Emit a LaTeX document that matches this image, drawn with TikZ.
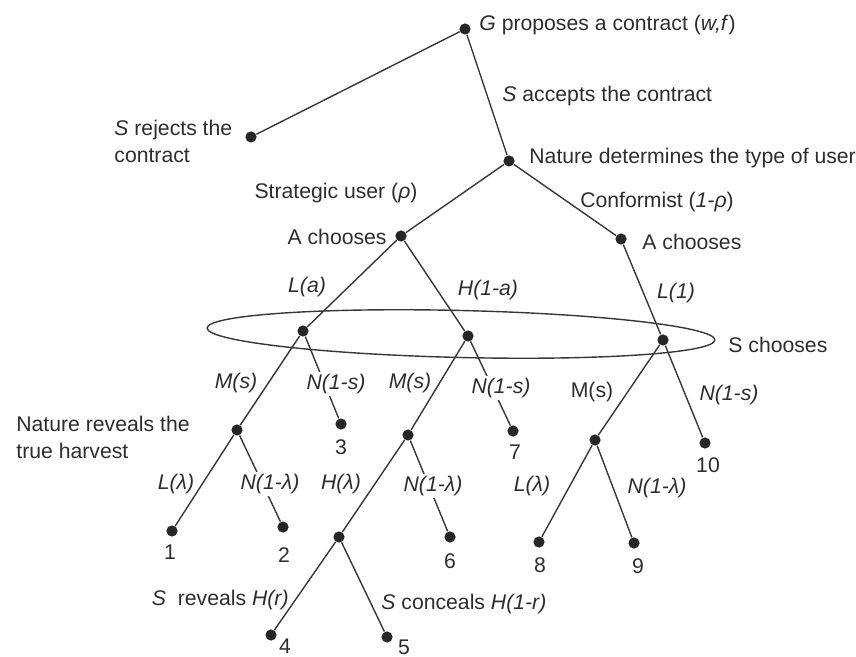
\documentclass[tikz,border=0pt]{standalone}
\usepackage{fontspec}
\setmainfont{Liberation Sans}
\usepackage{xcolor}
\usepackage{tikz}
\usetikzlibrary{shapes.geometric}
\definecolor{inkgray}{RGB}{55,55,55}
\definecolor{textgray}{RGB}{45,45,45}

\begin{document}
\begin{tikzpicture}[x=0.5pt, y=-0.5pt,
    every node/.style={font=\fontsize{10.6}{13.5}\selectfont, text=textgray},
    dot/.style={circle, fill=black!85, inner sep=0pt, minimum size=5.6pt},
    branch/.style={draw=inkgray, line width=0.7pt},
    lab/.style={inner sep=1pt},
    cut/.style={fill=white, inner sep=1pt}]
  \useasboundingbox (0,0) rectangle (856,657);
  % decision and chance nodes
  \node[dot] (g) at (465,29) {};
  \node[dot] (rej) at (251,137) {};
  \node[dot] (nat) at (509,161) {};
  \node[dot] (as) at (401,236) {};
  \node[dot] (ac) at (621,239) {};
  \node[dot] (sl) at (303,331) {};
  \node[dot] (sh) at (468,336) {};
  \node[dot] (sc) at (663,340) {};
  \node[dot] (nl) at (237,430) {};
  \node[dot] (nh) at (408,435) {};
  \node[dot] (nc) at (595,440) {};
  \node[dot] (sr) at (339,537) {};
  % end points
  \node[dot] (t1) at (172,531) {};
  \node[dot] (t2) at (283,527) {};
  \node[dot] (t3) at (341,424) {};
  \node[dot] (t4) at (271,635) {};
  \node[dot] (t5) at (387,637) {};
  \node[dot] (t6) at (450,537) {};
  \node[dot] (t7) at (513,431) {};
  \node[dot] (t8) at (539,542) {};
  \node[dot] (t9) at (634,543) {};
  \node[dot] (t10) at (705,443) {};
  \foreach \a/\b in {g/rej, g/nat, nat/as, nat/ac, as/sl, as/sh, ac/sc,
      sl/nl, sl/t3, sh/nh, sh/t7, sc/nc, sc/t10, nl/t1, nl/t2,
      nh/sr, nh/t6, nc/t8, nc/t9, sr/t4, sr/t5}
    \draw[branch] (\a) -- (\b);
  % information set of S
  \node[draw=inkgray, line width=0.7pt, ellipse, minimum width=254pt, minimum height=23.5pt,
    rotate=-1.35] (infoset) at (461,334) {};
  % player labels
  \node[lab, anchor=west] (gtxt) at (477,25) {\textit{G} proposes a contract (\textit{w,f})};
  \node[lab, anchor=west] (acctxt) at (500,96) {\textit{S} accepts the contract};
  \node[lab, anchor=west] (nattxt) at (527,158) {Nature determines the type of user};
  \node[lab, anchor=west, align=left] (rejtxt) at (112,141) {\textit{S} rejects the\\contract};
  \node[lab] (strat) at (336,193) {Strategic user (\textit{ρ})};
  \node[lab] (conf) at (657,202) {Conformist (\textit{1-ρ})};
  \node[lab, anchor=east] (astxt) at (389,237) {A chooses};
  \node[lab, anchor=west] (actxt) at (640,242) {A chooses};
  \node[lab, anchor=west] (sctxt) at (726,345) {S chooses};
  \node[lab, anchor=west, align=left] (nrtxt) at (14,437) {Nature reveals the\\true harvest};
  % move labels
  \node[lab] (la) at (307,287) {\textit{L(a)}};
  \node[lab] (ha) at (488,290) {\textit{H(1-a)}};
  \node[lab] (l1) at (676,293) {\textit{L(1)}};
  \node[lab] (ms1) at (236,383) {\textit{M(s)}};
  \node[cut] (ns1) at (336,384) {\textit{N(1-s)}};
  \node[lab] (ms2) at (410,383) {\textit{M(s)}};
  \node[cut] (ns2) at (501,388) {\textit{N(1-s)}};
  \node[lab] (ms3) at (592,392) {M(s)};
  \node[lab] (ns3) at (729,395) {\textit{N(1-s)}};
  \node[lab] (ll1) at (176,484) {\textit{L(λ)}};
  \node[cut] (nl1) at (270,484) {\textit{N(1-λ)}};
  \node[lab] (hl) at (341,484) {\textit{H(λ)}};
  \node[cut] (nl2) at (433,486) {\textit{N(1-λ)}};
  \node[lab] (ll2) at (532,486) {\textit{L(λ)}};
  \node[lab] (nl3) at (657,488) {\textit{N(1-λ)}};
  \node[lab, anchor=east] (revtxt) at (291,600) {\textit{S} \ reveals \textit{H(r)}};
  \node[lab, anchor=west] (contxt) at (379,604) {\textit{S} conceals \textit{H(1-r)}};
  % payoff numbers
  \node[lab] (n1) at (170,552) {1};
  \node[lab] (n2) at (284,555) {2};
  \node[lab] (n3) at (341,447) {3};
  \node[lab] (n4) at (285,646) {4};
  \node[lab] (n5) at (404,647) {5};
  \node[lab] (n6) at (450,561) {6};
  \node[lab] (n7) at (515,452) {7};
  \node[lab] (n8) at (540,565) {8};
  \node[lab] (n9) at (638,566) {9};
  \node[lab] (n10) at (708,465) {10};
\end{tikzpicture}
\end{document}
